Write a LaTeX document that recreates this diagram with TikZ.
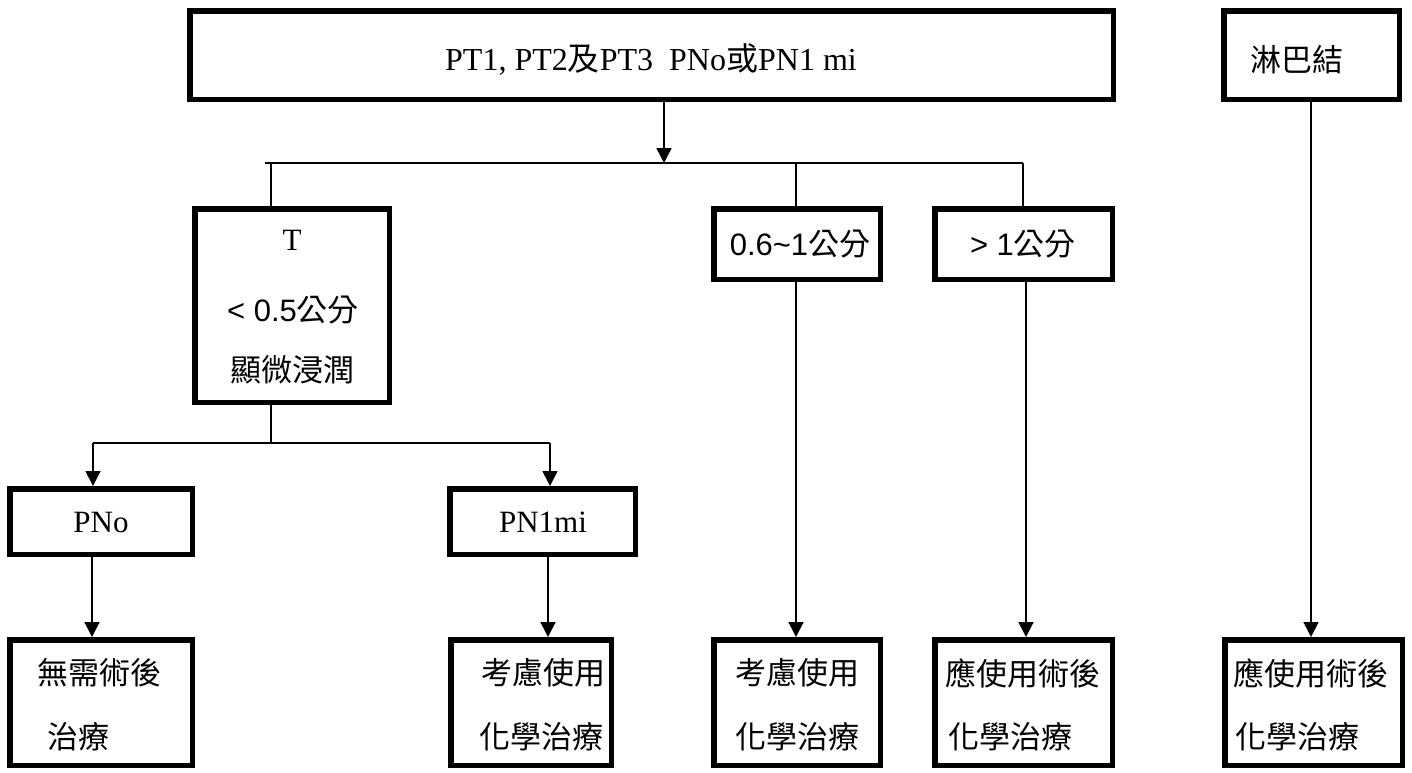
\documentclass[tikz,border=0pt]{standalone}
\usepackage{fontspec}
\setmainfont{Liberation Serif}
\newfontfamily\cjk{Noto Sans CJK TC}
\newfontfamily\ssf{Liberation Sans}
\usetikzlibrary{arrows.meta}
\begin{document}
\begin{tikzpicture}[x=1pt,y=-1pt,
  boxa/.style={draw,line width=5.5pt,inner sep=0pt,minimum height=#1},
  boxa/.default=88pt,
  lbl/.style={inner sep=0pt,font=\fontsize{31}{36}\selectfont},
  conn/.style={line width=1.6pt},
  arr/.style={conn,-{Triangle[width=15pt,length=15pt]}}]
\useasboundingbox (0,0) rectangle (1412,772);
% boxes (path dims = outer - 5.5)
\node[boxa=88.5pt,minimum width=923.5pt] (top) at (651.5,55) {};
\node[boxa=88.5pt,minimum width=175.5pt] (lym) at (1311.5,55) {};
\node[boxa=193.5pt,minimum width=194.5pt] (tb) at (292,305.5) {};
\node[boxa=70.5pt,minimum width=166.5pt] (m1) at (797,244) {};
\node[boxa=70.5pt,minimum width=177.5pt] (m2) at (1023.5,244) {};
\node[boxa=65.5pt,minimum width=182.5pt] (pno) at (101,521.5) {};
\node[boxa=65.5pt,minimum width=185.5pt] (pn1) at (542.5,521.5) {};
\node[boxa=125.5pt,minimum width=182.5pt] (b1) at (101,702.5) {};
\node[boxa=125.5pt,minimum width=160.5pt] (b2) at (531,702.5) {};
\node[boxa=125.5pt,minimum width=166.5pt] (b3) at (797,702.5) {};
\node[boxa=125.5pt,minimum width=177.5pt] (b4) at (1023.5,702.5) {};
\node[boxa=125.5pt,minimum width=177.5pt] (b5) at (1313.5,702.5) {};
% texts
\node[lbl,font=\fontsize{32}{36}\selectfont] (ttop) at (651,60) {PT1, PT2{\cjk 及}PT3\ \ PNo{\cjk 或}PN1 mi};
\node[lbl,anchor=west] (tlym) at (1250,60) {\cjk 淋巴結};
\node[lbl] (tt1) at (292,240) {T};
\node[lbl] (tt2) at (293,310) {{\ssf < 0.5}{\cjk 公分}};
\node[lbl] (tt3) at (292,370) {\cjk 顯微浸潤};
\node[lbl] (tm1) at (800,244) {{\ssf 0.6\char`~1}{\cjk 公分}};
\node[lbl] (tm2) at (1023,244) {{\ssf > 1}{\cjk 公分}};
\node[lbl] (tpno) at (101,522) {PNo};
\node[lbl] (tpn1) at (543,522) {PN1mi};
\node[lbl,anchor=west] (tb1a) at (37,673) {\cjk 無需術後};
\node[lbl,anchor=west] (tb1b) at (47,737) {\cjk 治療};
\node[lbl,anchor=west] (tb2a) at (481,673) {\cjk 考慮使用};
\node[lbl,anchor=west] (tb2b) at (479,737) {\cjk 化學治療};
\node[lbl,anchor=west] (tb3a) at (735,673) {\cjk 考慮使用};
\node[lbl,anchor=west] (tb3b) at (735,737) {\cjk 化學治療};
\node[lbl,anchor=west] (tb4a) at (945,673) {\cjk 應使用術後};
\node[lbl,anchor=west] (tb4b) at (948,737) {\cjk 化學治療};
\node[lbl,anchor=west] (tb5a) at (1233,673) {\cjk 應使用術後};
\node[lbl,anchor=west] (tb5b) at (1235,737) {\cjk 化學治療};
% junction coordinates
\coordinate (barmid) at (664,163);
\coordinate (barl) at (265,163);
\coordinate (barr) at (1023,163);
\coordinate (lowj) at (271,443);
\coordinate (lowl) at (93,443);
\coordinate (lowr) at (550,443);
% connectors
\draw[arr] (top.south -| barmid) -- (barmid);
\draw[conn] (barl) -- (barr);
\draw[conn] (barl -| lowj) -- (tb.north -| lowj);
\draw[conn] (barmid -| 796,0) -- (m1.north -| 796,0);
\draw[conn] (barr) -- (m2.north -| barr);
\draw[conn] (tb.south -| lowj) -- (lowj);
\draw[conn] (lowl) -- (lowr);
\draw[arr] (lowl) -- (pno.north -| lowl);
\draw[arr] (lowr) -- (pn1.north -| lowr);
\draw[arr] (pno.south -| 92,0) -- (b1.north -| 92,0);
\draw[arr] (pn1.south -| 548,0) -- (b2.north -| 548,0);
\draw[arr] (m1.south -| 796,0) -- (b3.north -| 796,0);
\draw[arr] (m2.south -| 1026,0) -- (b4.north -| 1026,0);
\draw[arr] (lym.south -| 1311,0) -- (b5.north -| 1311,0);
\end{tikzpicture}
\end{document}
